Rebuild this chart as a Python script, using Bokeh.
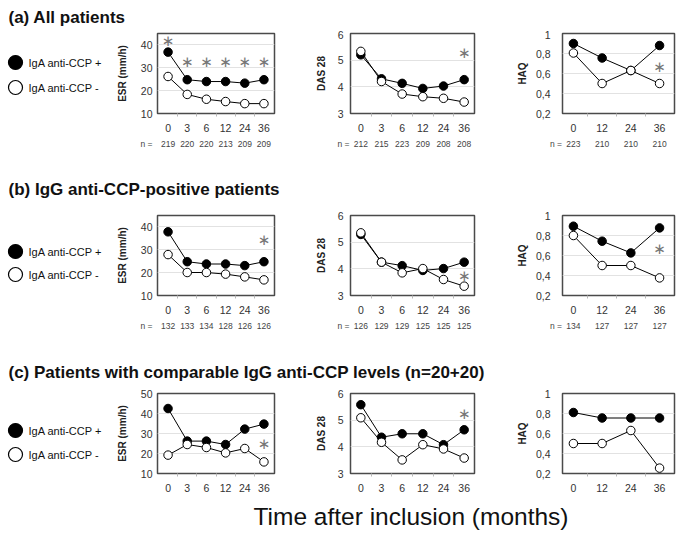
from bokeh.plotting import figure
from bokeh.layouts import column, row
from bokeh.models import Range1d, FixedTicker, LinearAxis, CustomJSTickFormatter
from bokeh.core.properties import value
from bokeh.embed import file_html
from bokeh.resources import INLINE

# ---------------- data ----------------
series_names = ["IgA anti-CCP +", "IgA anti-CCP -"]
months6 = ["0", "3", "6", "12", "24", "36"]
months4 = ["0", "12", "24", "36"]

row_titles = ["(a) All patients",
              "(b) IgG anti-CCP-positive patients",
              "(c) Patients with comparable IgG anti-CCP levels (n=20+20)"]
x_title = "Time after inclusion (months)"
n_prefix = "n ="

# (a) All patients
a_esr_pos = [36.7, 24.7, 23.9, 23.9, 23.2, 24.7]
a_esr_neg = [26.1, 18.3, 16.2, 15.2, 14.3, 14.3]
a_esr_n = [219, 220, 220, 213, 209, 209]
a_esr_star_x = [0, 1, 2, 3, 4, 5]
a_esr_star_y = [41.7, 32.2, 32.2, 32.2, 32.2, 32.2]

a_das_pos = [5.20, 4.30, 4.13, 3.94, 4.03, 4.27]
a_das_neg = [5.33, 4.20, 3.73, 3.63, 3.57, 3.43]
a_das_n = [212, 215, 223, 209, 208, 208]
a_das_star_x = [5]
a_das_star_y = [5.26]

a_haq_pos = [0.90, 0.755, 0.63, 0.88]
a_haq_neg = [0.805, 0.50, 0.63, 0.50]
a_haq_n = [223, 210, 210, 210]
a_haq_star_x = [3]
a_haq_star_y = [0.67]

# (b) IgG anti-CCP-positive patients
b_esr_pos = [37.7, 24.7, 23.7, 23.7, 23.0, 24.7]
b_esr_neg = [27.8, 20.0, 20.0, 19.3, 18.1, 16.8]
b_esr_n = [132, 133, 134, 128, 126, 126]
b_esr_star_x = [5]
b_esr_star_y = [34.3]

b_das_pos = [5.29, 4.25, 4.12, 3.94, 4.01, 4.25]
b_das_neg = [5.35, 4.25, 3.85, 4.01, 3.60, 3.35]
b_das_n = [126, 129, 129, 125, 125, 125]
b_das_star_x = [5]
b_das_star_y = [3.75]

b_haq_pos = [0.893, 0.743, 0.626, 0.876]
b_haq_neg = [0.80, 0.50, 0.50, 0.376]
b_haq_n = [134, 127, 127, 127]
b_haq_star_x = [3]
b_haq_star_y = [0.666]

# (c) comparable IgG anti-CCP levels
c_esr_pos = [42.5, 26.2, 26.2, 24.5, 32.2, 34.7]
c_esr_neg = [19.2, 24.5, 23.0, 20.3, 22.5, 15.8]
c_esr_star_x = [5]
c_esr_star_y = [24.7]

c_das_pos = [5.58, 4.36, 4.49, 4.49, 4.08, 4.64]
c_das_neg = [5.09, 4.17, 3.51, 4.08, 3.92, 3.58]
c_das_star_x = [5]
c_das_star_y = [5.24]

c_haq_pos = [0.81, 0.755, 0.755, 0.755]
c_haq_neg = [0.50, 0.50, 0.63, 0.254]
c_haq_star_x = []
c_haq_star_y = []

esr_ticks_ab = [10, 20, 30, 40]
esr_ticks_c = [10, 20, 30, 40, 50]
das_ticks = [3, 4, 5, 6]
haq_ticks = [0.2, 0.4, 0.6, 0.8, 1.0]

# ---------------- style ----------------
FONT = "Liberation Sans"
TOTAL_W = 685
FRAME_H = 80
N_FONT_PX = 8.5
PREFIX_EM = 0.556 + 0.278 + 0.584   # advance of "n =" in Liberation Sans


def panel(width, bl, br, height, bt, bb, xr, yr, yticks, ylabel, cats, pos, neg,
          star_x, star_y, counts=None, comma=False, ystandoff=5, label_standoff=8,
          gap="\u2002", gap_em=0.5):
    p = figure(width=width, height=height, x_range=Range1d(*xr), y_range=Range1d(*yr),
               output_backend="svg", toolbar_location=None, title=None,
               frame_width=width - bl - br, frame_height=FRAME_H,
               min_border_left=bl, min_border_right=br,
               min_border_top=bt, min_border_bottom=bb)
    p.outline_line_color = "#4a4a4a"
    p.outline_line_width = 1.5
    idx = list(range(len(cats)))

    ax = p.xaxis[0]
    ax.ticker = FixedTicker(ticks=idx, minor_ticks=[i + 0.5 for i in idx[:-1]])
    ax.major_label_overrides = {i: c for i, c in zip(idx, cats)}
    ax.axis_line_color = None
    ax.major_tick_line_color = None
    ax.major_tick_out = 0
    ax.major_tick_in = 0
    ax.minor_tick_line_color = "#b8b8b8"
    ax.minor_tick_in = 0
    ax.minor_tick_out = 3
    ax.major_label_standoff = 7
    ax.major_label_text_font = FONT
    ax.major_label_text_font_size = "10.5px"
    ax.major_label_text_color = "#333333"

    ay = p.yaxis[0]
    ay.ticker = FixedTicker(ticks=yticks)
    if comma:
        ay.formatter = CustomJSTickFormatter(
            code="return (Math.round(tick*10)/10).toString().replace('.', ',');")
    ay.axis_line_color = None
    ay.major_tick_line_color = None
    ay.major_tick_out = 0
    ay.major_tick_in = 0
    ay.minor_tick_line_color = None
    ay.minor_tick_out = 0
    ay.minor_tick_in = 0
    ay.major_label_standoff = ystandoff
    ay.major_label_text_font = FONT
    ay.major_label_text_font_size = "10.5px"
    ay.major_label_text_color = "#333333"
    ay.axis_label = ylabel
    ay.axis_label_text_font = FONT
    ay.axis_label_text_font_style = "bold"
    ay.axis_label_text_font_size = "10px"
    ay.axis_label_text_color = "#222222"
    ay.axis_label_standoff = label_standoff

    p.xgrid.visible = False
    p.ygrid.ticker = FixedTicker(ticks=yticks)
    p.ygrid.grid_line_color = "#e2e2e2"
    p.ygrid.grid_line_width = 1

    p.line(idx, pos, line_color="black", line_width=1)
    p.line(idx, neg, line_color="black", line_width=1)
    p.scatter(idx, pos, size=8.5, fill_color="black", line_color="black", line_width=1)
    p.scatter(idx, neg, size=8.5, fill_color="white", line_color="black", line_width=1)

    if star_x:
        p.text(star_x, star_y, text=["\u2217"] * len(star_x), text_align="center",
               text_baseline="middle", text_font=value("DejaVu Sans"),
               text_font_size="15px", text_color="#777777")

    if counts is not None:
        # counts row; the first label carries the "n =" prefix, its tick is
        # shifted left by half the prefix width so the count stays centred
        px_x = (width - bl - br) / (xr[1] - xr[0])
        shift = (PREFIX_EM + gap_em) * N_FONT_PX / 2 / px_x
        nticks = [idx[0] - shift] + idx[1:]
        labels = [n_prefix + gap + str(counts[0])] + [str(c) for c in counts[1:]]
        nax = LinearAxis(ticker=FixedTicker(ticks=nticks),
                         major_label_overrides={t: l for t, l in zip(nticks, labels)})
        nax.axis_line_color = None
        nax.major_tick_line_color = None
        nax.major_tick_out = 0
        nax.major_tick_in = 0
        nax.minor_tick_line_color = None
        nax.minor_tick_out = 0
        nax.minor_tick_in = 0
        nax.major_label_standoff = 4
        nax.major_label_text_font = FONT
        nax.major_label_text_font_size = f"{N_FONT_PX}px"
        nax.major_label_text_color = "#444444"
        p.add_layout(nax, "below")
    return p


def legend_fig(height, bt, y_first, y_second):
    # the frame of this figure is aligned with the panels' frames of the row,
    # so its y range is expressed in pixels from the top of the row
    p = figure(width=113, height=height, x_range=Range1d(0, 113),
               y_range=Range1d(bt + FRAME_H, bt),
               output_backend="svg", toolbar_location=None, title=None,
               x_axis_location=None, y_axis_location=None,
               frame_width=113, frame_height=FRAME_H,
               min_border_left=0, min_border_right=0,
               min_border_top=bt, min_border_bottom=height - bt - FRAME_H)
    p.outline_line_color = None
    p.grid.visible = False
    ys = [y_first, y_second]
    p.scatter([15, 15], ys, size=14, fill_color=["black", "white"], line_color="black",
              line_width=1.2)
    p.text([28, 28], ys, text=series_names, text_baseline="middle",
           text_font=value(FONT), text_font_size="11px", text_color="#111111")
    return p


def text_fig(height, txt, x, y_mid, size, bold=True):
    p = figure(width=TOTAL_W, height=height, x_range=Range1d(0, TOTAL_W),
               y_range=Range1d(0, height), output_backend="svg", toolbar_location=None,
               title=None, x_axis_location=None, y_axis_location=None,
               frame_width=TOTAL_W, frame_height=height,
               min_border_left=0, min_border_right=0, min_border_top=0, min_border_bottom=0)
    p.outline_line_color = None
    p.grid.visible = False
    p.text([x], [y_mid], text=[txt], text_baseline="middle", text_align="left",
           text_font=value(FONT), text_font_size=size,
           text_font_style="bold" if bold else "normal", text_color="#111111")
    return p


def panel_row(height, bt, bb, leg_y, data):
    (esr_pos, esr_neg, esr_n, esr_sx, esr_sy, esr_ticks, esr_top,
     das_pos, das_neg, das_n, das_sx, das_sy,
     haq_pos, haq_neg, haq_n, haq_sx, haq_sy) = data
    leg = legend_fig(height, bt, *leg_y)
    esr = panel(185, 44, 24, height, bt, bb, (-0.55, 5.55), (10, esr_top), esr_ticks,
                "ESR (mm/h)", months6, esr_pos, esr_neg, esr_sx, esr_sy, esr_n,
                ystandoff=5, label_standoff=10, gap="\u2003", gap_em=1.0)
    das = panel(195, 52, 19, height, bt, bb, (-0.5, 5.5), (3, 6), das_ticks,
                "DAS 28", months6, das_pos, das_neg, das_sx, das_sy, das_n,
                ystandoff=7, label_standoff=8)
    haq = panel(192, 69, 11, height, bt, bb, (-0.38, 3.52), (0.2, 1.0), haq_ticks,
                "HAQ", months4, haq_pos, haq_neg, haq_sx, haq_sy, haq_n, comma=True,
                ystandoff=12, label_standoff=5)
    return row(leg, esr, das, haq, spacing=0)


row_a = panel_row(150, 3, 67, (32, 57),
                  (a_esr_pos, a_esr_neg, a_esr_n, a_esr_star_x, a_esr_star_y, esr_ticks_ab, 44.8,
                   a_das_pos, a_das_neg, a_das_n, a_das_star_x, a_das_star_y,
                   a_haq_pos, a_haq_neg, a_haq_n, a_haq_star_x, a_haq_star_y))
row_b = panel_row(150, 10, 60, (46, 69),
                  (b_esr_pos, b_esr_neg, b_esr_n, b_esr_star_x, b_esr_star_y, esr_ticks_ab, 44.8,
                   b_das_pos, b_das_neg, b_das_n, b_das_star_x, b_das_star_y,
                   b_haq_pos, b_haq_neg, b_haq_n, b_haq_star_x, b_haq_star_y))
row_c = panel_row(115, 11, 24, (48, 72),
                  (c_esr_pos, c_esr_neg, None, c_esr_star_x, c_esr_star_y, esr_ticks_c, 50,
                   c_das_pos, c_das_neg, None, c_das_star_x, c_das_star_y,
                   c_haq_pos, c_haq_neg, None, c_haq_star_x, c_haq_star_y))

title_a = text_fig(30, row_titles[0], 8, 13, "17px")
title_b = text_fig(25, row_titles[1], 8, 16, "17px")
title_c = text_fig(27, row_titles[2], 8, 10.5, "17px")
bottom = text_fig(37, x_title, 253, 18, "24.5px", bold=False)

layout = column(title_a, row_a, title_b, row_b, title_c, row_c, bottom, spacing=0)

open("out.html", "w").write(file_html(layout, INLINE))
